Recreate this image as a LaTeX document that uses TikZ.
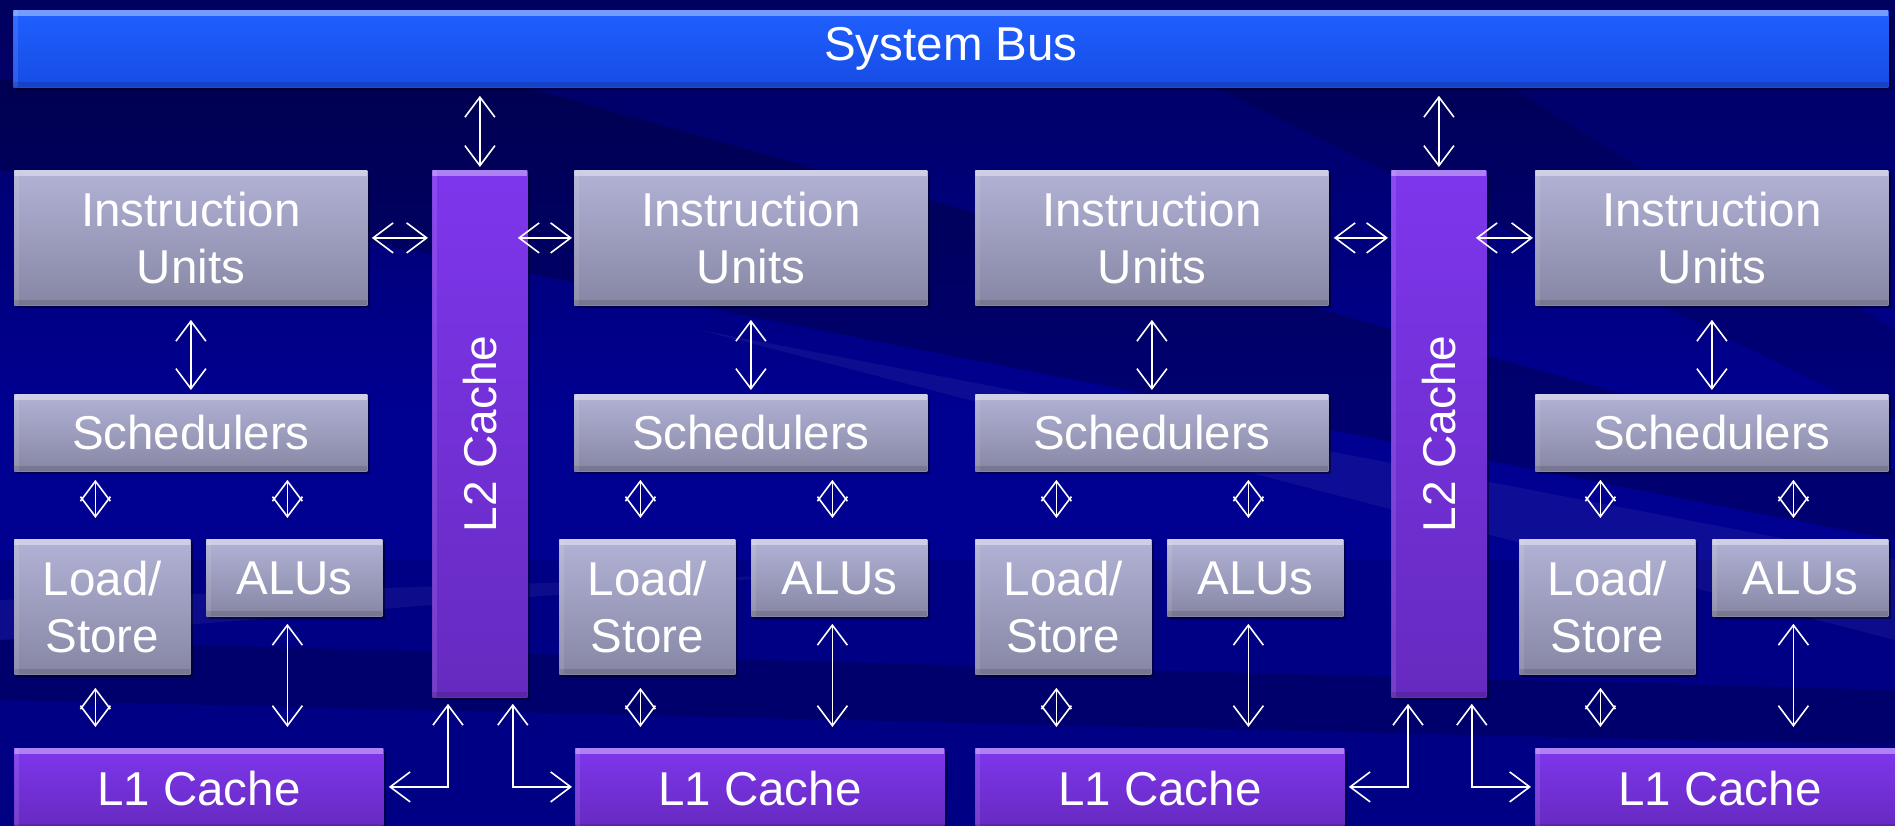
\documentclass[tikz,border=0pt]{standalone}
\usepackage{fontspec}
\setmainfont{Liberation Sans}
\usetikzlibrary{arrows.meta,calc,shadows}
\definecolor{bgtop}{RGB}{0,0,95}
\definecolor{bgmid}{RGB}{0,0,145}
\definecolor{bgbot}{RGB}{0,0,125}
\definecolor{gtop}{RGB}{178,178,214}
\definecolor{gbot}{RGB}{134,134,164}
\definecolor{ptop}{RGB}{126,54,236}
\definecolor{pbot}{RGB}{102,42,192}
\definecolor{btop}{RGB}{32,96,255}
\definecolor{bbot}{RGB}{22,76,228}
\begin{document}
\begin{tikzpicture}[x=0.5pt,y=-0.5pt,
  base/.style={anchor=north west, inner sep=0pt, text=white,
    font=\fontsize{23.75}{28.5}\selectfont, align=center,
    drop shadow={shadow xshift=1.5pt, shadow yshift=-1.5pt, opacity=0.45, fill=black},
    path picture={
      \fill[white,opacity=0.38] (path picture bounding box.north west) rectangle ([yshift=-3pt]path picture bounding box.north east);
      \fill[white,opacity=0.10] (path picture bounding box.north west) rectangle ([xshift=2.5pt]path picture bounding box.south west);
      \fill[black,opacity=0.12] ([yshift=2.5pt]path picture bounding box.south west) rectangle (path picture bounding box.south east);
    }},
  graybox/.style={base, top color=gtop, bottom color=gbot},
  purplebox/.style={base, top color=ptop, bottom color=pbot},
  busbox/.style={base, top color=btop, bottom color=bbot},
  iubox/.style={graybox, minimum width=176.5pt, minimum height=67.5pt},
  schedbox/.style={graybox, minimum width=176.5pt, minimum height=38.5pt},
  lsbox/.style={graybox, minimum width=88pt, minimum height=67.5pt},
  alubox/.style={graybox, minimum width=88pt, minimum height=38.5pt},
  lonebox/.style={purplebox, minimum width=184.5pt, minimum height=40.5pt},
  ltwobox/.style={purplebox, minimum width=47.5pt, minimum height=263.5pt},
  ltwotext/.style={rotate=90, text=white, inner sep=0pt, font=\fontsize{23}{28}\selectfont},
  darr/.style={draw=white, line width=0.8pt,
    {Straight Barb[length=10pt,width=15pt]}-{Straight Barb[length=10pt,width=15pt]}}
]
% background
\useasboundingbox (0,0) rectangle (1895,825);
\clip (0,0) rectangle (1895,825);
\shade[top color=bgtop, bottom color=bgmid, middle color=bgmid] (0,0) rectangle (1895,825);
\fill[bgbot,opacity=0.6] (0,560) rectangle (1895,825);
\fill[black,opacity=0.22] (0,80) -- (500,80) -- (1895,470) -- (1895,540) -- (0,170) -- cycle;
\fill[black,opacity=0.18] (0,640) -- (1895,690) -- (1895,745) -- (0,700) -- cycle;
\fill[white,opacity=0.05] (700,330) -- (1895,560) -- (1895,640) -- cycle;
\fill[white,opacity=0.05] (0,600) -- (800,575) -- (0,640) -- cycle;
\fill[black,opacity=0.15] (1200,80) -- (1500,80) -- (1895,330) -- (1895,420) -- cycle;

% system bus
\node[busbox, minimum width=937.5pt, minimum height=38.5pt] (bus) at (13,10) {System Bus};

% L2 caches
\node[ltwobox] (l2a) at (432,170) {};
\node[ltwotext] (l2atext) at (l2a.center) {L2 Cache};
\node[ltwobox] (l2b) at (1391,170) {};
\node[ltwotext] (l2btext) at (l2b.center) {L2 Cache};

% group 1
\node[iubox] (iu1) at (14,170) {Instruction\\Units};
\node[schedbox] (sc1) at (14,394) {Schedulers};
\node[lsbox] (ls1) at (14,539) {Load/\\Store};
\node[alubox] (al1) at (206,539) {ALUs};
\node[lonebox] (l1a) at (14,748) {L1 Cache};
% group 2
\node[iubox] (iu2) at (574,170) {Instruction\\Units};
\node[schedbox] (sc2) at (574,394) {Schedulers};
\node[lsbox] (ls2) at (559,539) {Load/\\Store};
\node[alubox] (al2) at (751,539) {ALUs};
\node[lonebox] (l1b) at (575,748) {L1 Cache};
% group 3
\node[iubox] (iu3) at (975,170) {Instruction\\Units};
\node[schedbox] (sc3) at (975,394) {Schedulers};
\node[lsbox] (ls3) at (975,539) {Load/\\Store};
\node[alubox] (al3) at (1167,539) {ALUs};
\node[lonebox] (l1c) at (975,748) {L1 Cache};
% group 4
\node[iubox] (iu4) at (1535,170) {Instruction\\Units};
\node[schedbox] (sc4) at (1535,394) {Schedulers};
\node[lsbox] (ls4) at (1519,539) {Load/\\Store};
\node[alubox] (al4) at (1712,539) {ALUs};
\node[lonebox] (l1d) at (1535,748) {L1 Cache};

% vertical connectors in each group
\foreach \iu/\sc/\ls/\al/\lo in {iu1/sc1/ls1/al1/l1a, iu2/sc2/ls2/al2/l1b, iu3/sc3/ls3/al3/l1c, iu4/sc4/ls4/al4/l1d}{
  \draw[darr] ($(\iu.south)+(0,14)$) -- ($(\sc.north)+(0,-4)$);
  \draw[darr] ($(\sc.south -| \ls.north)+(-7,8)$) -- ($(\ls.north)+(-7,-21)$);
  \draw[darr] ($(\sc.south -| \al.north)+(-7,8)$) -- ($(\al.north)+(-7,-21)$);
  \draw[darr] ($(\ls.south)+(-7,13)$) -- ($(\lo.north -| \ls.south)+(-7,-21)$);
  \draw[darr] ($(\al.south)+(-7,7)$) -- ($(\lo.north -| \al.south)+(-7,-21)$);
}

% bus to L2
\draw[darr] ($(l2a.north)+(0,-3)$) -- ($(bus.south -| l2a.north)+(0,8)$);
\draw[darr] ($(l2b.north)+(0,-3)$) -- ($(bus.south -| l2b.north)+(0,8)$);

% instruction units to L2
\draw[darr] ($(iu1.east)+(4,0)$) -- ($(l2a.west |- iu1.east)+(-4,0)$);
\draw[darr] ($(l2a.east |- iu2.west)+(-10,0)$) -- ($(iu2.west)+(-2,0)$);
\draw[darr] ($(iu3.east)+(5,0)$) -- ($(l2b.west |- iu3.east)+(-3,0)$);
\draw[darr] ($(l2b.east |- iu4.west)+(-11,0)$) -- ($(iu4.west)+(-2,0)$);

% L2 to L1
\draw[darr] ($(l1a.east)+(5,-2)$) -| ($(l2a.south west)+(16,6)$);
\draw[darr] ($(l2a.south east)+(-15,6)$) |- ($(l1b.west)+(-3,-2)$);
\draw[darr] ($(l1c.east)+(4,-2)$) -| ($(l2b.south west)+(17,6)$);
\draw[darr] ($(l2b.south east)+(-15,6)$) |- ($(l1d.west)+(-4,-2)$);
\end{tikzpicture}
\end{document}
